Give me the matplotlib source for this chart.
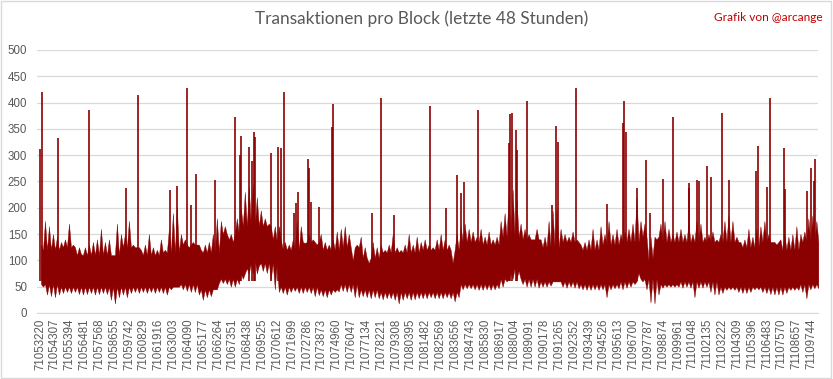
import numpy as np
import matplotlib
matplotlib.use("Agg")
import matplotlib.pyplot as plt
from matplotlib.patches import Rectangle

# erster und letzter Block im Zeitfenster (48 Stunden)
first_block = 71053220
last_block = 71110096
tick_step = 1087

# Spitzen / Taeler der Transaktionen pro Block (je ca. 290 Bloecke)
hi = [130, 175, 165, 150, 145, 135, 140, 170, 130, 110,
      112, 125, 130, 135, 140, 160, 135, 140, 110, 170,
      150, 150, 175, 130, 125, 120, 130, 150, 125, 120,
      140, 120, 160, 190, 200, 150, 140, 125, 135, 130,
      120, 130, 135, 150, 180, 175, 165, 140, 135, 180,
      200, 230, 240, 245, 220, 195, 180, 170, 140, 135,
      140, 135, 130, 140, 175, 165, 133, 150, 140, 130,
      150, 135, 130, 140, 155, 160, 165, 150, 100, 130,
      145, 125, 95, 135, 125, 130, 120, 130, 150, 125,
      120, 130, 150, 130, 145, 135, 140, 130, 125, 140,
      150, 140, 130, 95, 150, 165, 170, 160, 155, 145,
      160, 145, 155, 140, 145, 175, 190, 225, 235, 215,
      170, 160, 150, 140, 160, 140, 145, 175, 195, 200,
      160, 150, 145, 155, 140, 130, 135, 140, 160, 140,
      165, 150, 175, 150, 160, 150, 155, 160, 170, 220,
      175, 170, 100, 105, 140, 170, 175, 160, 150, 155,
      160, 150, 170, 150, 175, 170, 145, 150, 155, 140,
      150, 175, 185, 175, 145, 135, 140, 160, 145, 160,
      165, 175, 150, 135, 130, 140, 150, 145, 150, 165,
      150, 155, 180, 185, 175]
lo = [50, 35, 32, 30, 35, 38, 40, 38, 40, 36,
      35, 36, 38, 35, 36, 38, 36, 25, 18, 30,
      35, 30, 38, 40, 38, 40, 38, 40, 38, 40,
      38, 35, 45, 50, 50, 45, 42, 40, 40, 35,
      25, 30, 32, 45, 57, 57, 55, 50, 50, 55,
      65, 85, 95, 100, 90, 80, 76, 65, 45, 40,
      38, 35, 40, 42, 38, 38, 40, 38, 32, 34,
      32, 30, 35, 40, 41, 42, 40, 40, 30, 30,
      32, 30, 28, 30, 28, 26, 28, 28, 25, 18,
      25, 28, 25, 26, 28, 28, 28, 30, 28, 28,
      28, 30, 28, 22, 30, 45, 47, 47, 45, 44,
      44, 45, 44, 45, 47, 50, 60, 76, 85, 80,
      55, 50, 50, 50, 48, 50, 50, 52, 60, 60,
      50, 48, 50, 48, 47, 45, 44, 44, 45, 44,
      45, 30, 45, 47, 47, 45, 48, 50, 55, 76,
      60, 45, 20, 18, 35, 48, 50, 50, 50, 50,
      48, 50, 48, 30, 48, 48, 50, 40, 35, 35,
      38, 44, 45, 44, 40, 38, 38, 40, 45, 45,
      40, 38, 36, 35, 35, 35, 38, 44, 44, 44,
      40, 28, 45, 47, 47]

# dichter Kern je 5 Spalten (ca. 1460 Bloecke): Ober- und Unterkante
core_top = [120, 125, 110, 110, 125, 110, 115, 130, 115, 150,
            165, 165, 120, 135, 120, 125, 105, 115, 115, 120,
            120, 135, 130, 145, 140, 125, 135, 120, 130, 135,
            145, 135, 135, 135, 135, 125, 135, 120, 135]
core_bottom = [55, 50, 50, 50, 50, 50, 50, 55, 45, 65,
               75, 95, 50, 50, 45, 55, 45, 40, 40, 40,
               40, 55, 55, 65, 65, 60, 60, 55, 55, 60,
               65, 55, 60, 60, 50, 50, 50, 50, 55]

# einzelne Ausreisser (Block, Transaktionen)
spike_blocks = [71053220, 71053344, 71054560, 71056829, 71059537, 71060416,
                71062736, 71063270, 71063958, 71064273, 71064639, 71066030,
                71067516, 71067860, 71067911, 71068541, 71068716, 71068885,
                71068958, 71070151, 71070664, 71070861, 71071103, 71071835,
                71072010, 71072128, 71072860, 71072933, 71073108, 71073665,
                71074616, 71074690, 71077544, 71078203, 71079155, 71081790,
                71082961, 71083766, 71084059, 71084279, 71085333, 71087573,
                71087624, 71087770, 71088085, 71088188, 71088890, 71090750,
                71091013, 71091160, 71092506, 71094746, 71095918, 71095991,
                71096137, 71096942, 71097601, 71097872, 71098846, 71099578,
                71100749, 71100800, 71101334, 71101532, 71102066, 71102359,
                71103164, 71103676, 71105682, 71105799, 71106458, 71106678,
                71107732, 71107827, 71109416, 71109708, 71109899, 71110001]
spike_values = [311, 421, 332, 386, 237, 415,
                234, 242, 428, 206, 264, 253,
                372, 300, 337, 315, 288, 345,
                335, 304, 315, 313, 421, 190,
                209, 230, 292, 275, 211, 201,
                353, 397, 190, 408, 187, 394,
                199, 263, 228, 249, 385, 323,
                378, 380, 348, 310, 403, 206,
                356, 326, 427, 208, 361, 403,
                344, 237, 291, 190, 254, 372,
                237, 247, 253, 250, 280, 258,
                380, 253, 269, 318, 240, 408,
                313, 235, 232, 275, 250, 293]

farbe = "#8B0000"
grau = "#595959"

fig = plt.figure(figsize=(8.33, 3.79), dpi=100)
ax = fig.add_axes([0.0444, 0.1742, 0.9376, 0.6939])

# Spitzen bei x, Taeler eine halbe Spalte weiter
col_blocks = np.linspace(first_block + 73, last_block, len(hi))
half = (col_blocks[1] - col_blocks[0]) / 2
xs = np.column_stack([col_blocks, col_blocks + half]).ravel()
per = len(hi) // len(core_top)
top_edge = np.column_stack([hi, np.repeat(core_top, per)]).ravel()
bottom_edge = np.column_stack([np.repeat(core_bottom, per), lo]).ravel()

ax.fill_between(xs, bottom_edge, top_edge, color=farbe, lw=0.3, zorder=3)
ax.vlines(spike_blocks, 60, spike_values, color=farbe, lw=1.2, zorder=3)

ax.set_ylim(0, 500)
ax.set_xlim(first_block - 220, last_block + 120)
ax.set_yticks(range(0, 501, 50))
ticks = list(range(first_block, last_block, tick_step))
ax.set_xticks(ticks)
ax.set_xticklabels([str(t) for t in ticks], rotation=90)
ax.tick_params(axis="both", length=0, labelsize=8.3, labelcolor=grau)
for lab in ax.get_xticklabels() + ax.get_yticklabels():
    lab.set_fontfamily("Liberation Sans")
ax.tick_params(axis="y", pad=7)
ax.tick_params(axis="x", pad=4)
ax.grid(axis="y", color="#D9D9D9", lw=0.9, zorder=0)
ax.set_axisbelow(True)
for s in ["top", "right", "left"]:
    ax.spines[s].set_visible(False)
ax.spines["bottom"].set_color("#D9D9D9")

fig.text(0.506, 0.95, "Transaktionen pro Block (letzte 48 Stunden)",
         ha="center", va="center", fontsize=12.4, color=grau, family="Lato")
fig.text(0.987, 0.955, "Grafik von @arcange", ha="right", va="center",
         fontsize=8.6, color="#C00000", family="Lato")

fig.patches.append(Rectangle((0.001, 0.002), 0.997, 0.995, transform=fig.transFigure,
                             fill=False, ec="#D9D9D9", lw=1))

fig.savefig("out.png", dpi=100)
